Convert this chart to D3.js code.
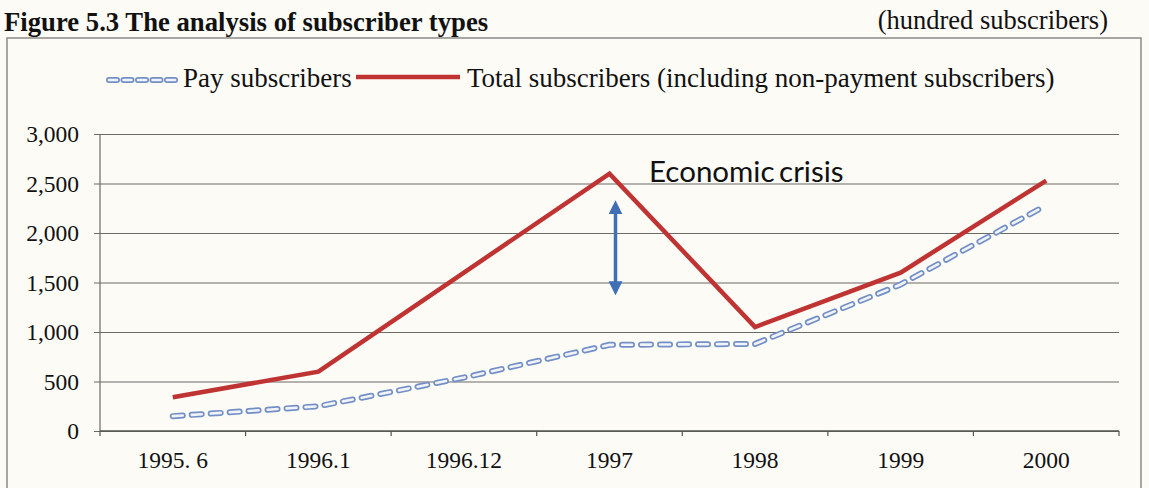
<!DOCTYPE html>
<html>
<head>
<meta charset="utf-8">
<script src="https://cdn.jsdelivr.net/npm/d3@7/dist/d3.min.js"></script>
<style>
  html, body { margin: 0; padding: 0; background: #fcfbf6; }
  svg { display: block; }
</style>
</head>
<body>
<svg id="chart" width="1149" height="488"></svg>
<script>
// Subscriber counts, in hundreds
const categories = ["1995. 6", "1996.1", "1996.12", "1997", "1998", "1999", "2000"];
const totalSubscribers = [340, 600, 1600, 2600, 1050, 1600, 2530];
const paySubscribers = [150, 250, 540, 870, 880, 1480, 2280];
const yTicks = [0, 500, 1000, 1500, 2000, 2500, 3000];
const crisisArrow = [2330, 1370];

const serif = "'Liberation Serif', 'Times New Roman', serif";
const svg = d3.select("#chart");

const x = d3.scaleBand().domain(categories).range([100, 1119]);
const y = d3.scaleLinear().domain([0, 3000]).range([431, 134]);
const cx = d => x(d) + x.bandwidth() / 2;

// Title and unit
svg.append("text")
  .attr("x", 4).attr("y", 31)
  .attr("font-family", serif).attr("font-weight", "bold").attr("font-size", 26.7)
  .attr("fill", "#111")
  .text("Figure 5.3 The analysis of subscriber types");
svg.append("text")
  .attr("x", 1108).attr("y", 29).attr("text-anchor", "end")
  .attr("font-family", serif).attr("font-size", 26.5).attr("fill", "#111")
  .text("(hundred subscribers)");

// Frame
svg.append("path")
  .attr("d", "M7,492 V38 H1141 V492")
  .attr("fill", "none").attr("stroke", "#8a8a86").attr("stroke-width", 1.5);

// Gridlines + y labels
const yAxis = d3.axisLeft(y).tickValues(yTicks).tickSize(-(1119 - 94))
  .tickFormat(d3.format(","));
const gy = svg.append("g").attr("transform", "translate(94,0)").call(yAxis);
gy.select(".domain").remove();
gy.selectAll(".tick line").attr("stroke", "#6b6b66").attr("stroke-width", 1.2);
gy.selectAll(".tick text").attr("font-family", serif).attr("font-size", 23.5).attr("fill", "#111")
  .attr("x", -15);

// Axis lines
svg.append("line").attr("x1", 100).attr("x2", 100).attr("y1", y(3000)).attr("y2", y(0))
  .attr("stroke", "#6b6b66").attr("stroke-width", 1.2);
svg.append("line").attr("x1", 100).attr("x2", 1119).attr("y1", y(0)).attr("y2", y(0))
  .attr("stroke", "#55554f").attr("stroke-width", 1.5);

// Category boundary ticks
const bounds = categories.map(c => x(c)).concat([x.range()[1]]);
svg.selectAll(".xtick").data(bounds).enter().append("line")
  .attr("x1", d => d).attr("x2", d => d)
  .attr("y1", y(0)).attr("y2", y(0) + 5)
  .attr("stroke", "#55554f").attr("stroke-width", 1.2);

// X labels
const gx = svg.append("g").attr("transform", `translate(0,${y(0)})`)
  .call(d3.axisBottom(x).tickSize(0));
gx.select(".domain").remove();
gx.selectAll(".tick text").attr("font-family", serif).attr("font-size", 23.5).attr("fill", "#111")
  .attr("y", 37).attr("dy", 0);

const line = d3.line().x((d, i) => cx(categories[i])).y(d => y(d));

// Pay subscribers: outlined dashes
const payPath = line(paySubscribers);
svg.append("path").attr("d", payPath).attr("fill", "none")
  .attr("stroke", "#7390c6").attr("stroke-width", 6)
  .attr("stroke-linecap", "round").attr("stroke-dasharray", "10,9");
svg.append("path").attr("d", payPath).attr("fill", "none")
  .attr("stroke", "#f1f3f9").attr("stroke-width", 2.6)
  .attr("stroke-linecap", "round").attr("stroke-dasharray", "10,9");

// Total subscribers
svg.append("path").attr("d", line(totalSubscribers)).attr("fill", "none")
  .attr("stroke", "#bf3333").attr("stroke-width", 4.5).attr("stroke-linejoin", "miter");

// Economic crisis annotation
const defs = svg.append("defs");
defs.append("marker").attr("id", "head").attr("viewBox", "0 0 10 10")
  .attr("refX", 5).attr("refY", 5).attr("markerWidth", 4).attr("markerHeight", 4)
  .attr("markerUnits", "strokeWidth").attr("orient", "auto-start-reverse")
  .append("path").attr("d", "M0,0 L10,5 L0,10 Z").attr("fill", "#3f6fb5");
const ax = cx("1997") + 6;
svg.append("line")
  .attr("x1", ax).attr("x2", ax)
  .attr("y1", y(crisisArrow[0]) + 7).attr("y2", y(crisisArrow[1]) - 7)
  .attr("stroke", "#3f6fb5").attr("stroke-width", 3.5)
  .attr("marker-start", "url(#head)").attr("marker-end", "url(#head)");
svg.append("text")
  .attr("x", 649).attr("y", 182)
  .attr("font-family", "Lato, 'Open Sans', sans-serif").attr("font-size", 29.5)
  .attr("word-spacing", -3).attr("fill", "#111")
  .text("Economic crisis");

// Legend
const lg = svg.append("g");
lg.append("line").attr("x1", 109).attr("x2", 177).attr("y1", 80).attr("y2", 80)
  .attr("stroke", "#7390c6").attr("stroke-width", 6).attr("stroke-linecap", "round")
  .attr("stroke-dasharray", "8,6.5");
lg.append("line").attr("x1", 109).attr("x2", 177).attr("y1", 80).attr("y2", 80)
  .attr("stroke", "#f1f3f9").attr("stroke-width", 2.6).attr("stroke-linecap", "round")
  .attr("stroke-dasharray", "8,6.5");
lg.append("text").attr("x", 183).attr("y", 87)
  .attr("font-family", serif).attr("font-size", 27).attr("fill", "#111")
  .text("Pay subscribers");
lg.append("line").attr("x1", 356).attr("x2", 460).attr("y1", 77).attr("y2", 77)
  .attr("stroke", "#bf3333").attr("stroke-width", 4.5);
lg.append("text").attr("x", 467).attr("y", 87)
  .attr("font-family", serif).attr("font-size", 27).attr("fill", "#111")
  .text("Total subscribers (including non-payment subscribers)");
</script>
</body>
</html>
